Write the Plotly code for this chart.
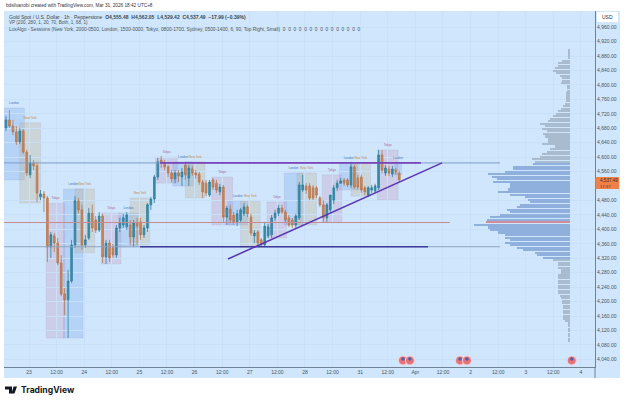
import plotly.graph_objects as go

# candles (hours since 23rd 00:00 built below)
opens = [4681,4703,4686,4670,4642,4672,4614,4551,4584,4576,4490,4498,4487,4351,4382,4362,4307,4221,4205,4257,
         4357,4479,4454,4357,4376,4445,4426,4398,4437,4324,4362,4349,4329,4404,4412,4407,4412,4379,4418,4421,
         4385,4404,4468,4484,4545,4592,4584,4573,4556,4540,4556,4545,4578,4542,4567,4556,4553,4531,4528,4495,
         4537,4528,4504,4517,4434,4456,4440,4421,4426,4443,4462,4434,4382,4393,4371,4357,4382,4385,4432,4445,
         4459,4448,4432,4426,4412,4432,4509,4520,4520,4515,4515,4487,4468,4432,4454,4481,4515,4528,4537,4537,
         4523,4573,4542,4545,4515,4495,4509,4506,4515,4606,4556,4567,4553,4564,4555.48]
highs = [4714,4730,4703,4686,4681,4678,4620,4606,4592,4587,4509,4506,4492,4393,4390,4376,4329,4238,4288,4371,
         4492,4487,4468,4385,4459,4468,4437,4448,4443,4371,4371,4360,4412,4432,4443,4448,4426,4426,4432,4432,
         4412,4473,4490,4551,4598,4603,4592,4578,4564,4564,4564,4570,4587,4578,4576,4564,4559,4537,4537,4537,
         4542,4537,4526,4523,4465,4468,4448,4454,4459,4473,4468,4443,4398,4398,4376,4421,4415,4440,4454,4468,
         4468,4454,4440,4432,4443,4531,4551,4528,4528,4523,4520,4492,4481,4473,4495,4523,4537,4542,4542,4542,
         4587,4578,4551,4551,4520,4520,4523,4526,4620,4620,4578,4576,4576,4570,4562.05]
lows = [4672,4681,4661,4634,4636,4609,4548,4542,4564,4476,4481,4448,4310,4321,4337,4301,4216,4163,4099,4252,
        4349,4445,4343,4349,4371,4393,4390,4393,4307,4304,4310,4321,4321,4393,4404,4398,4357,4351,4357,4371,
        4376,4393,4454,4473,4537,4570,4564,4545,4531,4528,4531,4520,4537,4520,4548,4540,4523,4487,4492,4490,
        4509,4501,4495,4421,4412,4418,4412,4409,4418,4437,4434,4382,4362,4351,4351,4351,4376,4376,4423,4437,
        4443,4418,4407,4404,4404,4426,4504,4498,4481,4481,4487,4462,4421,4421,4448,4470,4506,4526,4520,4517,
        4515,4512,4509,4501,4495,4490,4501,4501,4509,4556,4548,4548,4545,4551,4529.42]
closes = [4703,4686,4670,4642,4672,4614,4556,4584,4576,4501,4498,4487,4351,4385,4362,4307,4221,4205,4257,4357,
          4479,4454,4357,4371,4445,4404,4398,4437,4324,4362,4321,4329,4404,4418,4432,4440,4379,4418,4409,4385,
          4404,4468,4484,4545,4587,4584,4573,4556,4540,4556,4548,4559,4551,4570,4556,4551,4531,4504,4501,4531,
          4517,4509,4517,4434,4459,4426,4421,4443,4454,4462,4443,4390,4390,4362,4357,4409,4407,4432,4445,4459,
          4448,4426,4412,4412,4437,4523,4523,4509,4487,4487,4495,4468,4432,4468,4495,4515,4528,4534,4528,4523,
          4573,4517,4517,4509,4504,4515,4515,4520,4606,4564,4570,4556,4567,4559,4537.49]
candle_hours = [-10 + 1.5 * i for i in range(len(opens))]

# volume profile
vp_top = 4896
vp_step = 7
vp_len = [1.5,1.5,1.5,1.5,8,12,12,15,17,14,10,8,8,9,3,3,3,4,4,4,4,5,7,9,12,14,17,20,22,30,25,28,23,27,25,22,22,28,
          15,20,23,28,30,38,35,37,57,57,65,82,78,73,77,60,60,62,72,60,45,42,40,50,53,63,60,70,80,83,84,96,82,80,
          72,65,65,60,65,60,53,47,35,33,27,17,12,12,12,9,9,12,12,12,12,12,12,12,12,10,9,8,8,7,7,7,7,7,7,5,
          1.5,1.5,1.5,1.5,1.5,1.5,1.5,1.5]
vp_prices = [vp_top - vp_step * i for i in range(len(vp_len))]
va_high = 4584
va_low = 4322
poc = 4419
val_line = 4352

# session boxes
sess_names = ["London","New York","Tokyo","London","New York","Tokyo","London","New York","Tokyo","London","New York",
              "Tokyo","London","New York","Tokyo","London","New York","Tokyo","London","New York","Tokyo","London"]
sess_start = [-11,-4,7.5,15,20,31.5,39,44,55,62.5,68,79.5,86.5,92,103.5,111,116.5,127.5,135,140,151.5,159]
sess_end = [-2,5,15.5,23.5,28.5,40,47.5,52.5,64.5,71.5,76.5,88.5,95,100.5,112,119,125,136,143,148.5,160.5,162]
sess_top = [4736,4695,4473,4512,4512,4445,4445,4487,4600,4587,4587,4545,4479,4479,4476,4556,4556,4551,4584,4584,4620,4584]
sess_bot = [4537,4473,4099,4099,4335,4304,4351,4357,4528,4520,4487,4412,4412,4351,4376,4412,4412,4421,4509,4492,4481,4551]
sess_fill = {"Tokyo": "rgba(190,120,170,0.22)", "London": "rgba(110,160,235,0.28)", "New York": "rgba(190,170,130,0.28)"}
sess_text = {"Tokyo": "#b0609a", "London": "#4a78b8", "New York": "#c78a3a"}

# axes; 4,520 sits behind the last price tag
price_ticks = [v for v in range(4040, 4961, 40) if v != 4520]
time_labels = ["23","12:00","24","12:00","25","12:00","26","12:00","27","12:00","28","12:00","31","12:00",
               "Apr","12:00","2","12:00","3","12:00","4"]
time_ticks = [12 * i for i in range(len(time_labels))]
event_hours = [162.6, 165.6, 187.4, 190.4, 236]

W, H = 625, 402
ML, MR, MT, MB = 4, 30, 11, 35
PW, PH = W - ML - MR, H - MT - MB


def px(x):
    return (x - ML) / PW


def py(y):
    return (H - MB - y) / PH


BG = "#cfe6fc"
GRID = "#c8e0f8"
TXT = "#4a5560"

fig = go.Figure()

# background panel
fig.add_shape(type="rect", xref="paper", yref="paper", x0=px(4), x1=px(620), y0=py(378), y1=py(11),
              fillcolor=BG, line_width=0, layer="below")

for n, s, e, t, b in zip(sess_names, sess_start, sess_end, sess_top, sess_bot):
    fig.add_shape(type="rect", x0=s, x1=e, y0=b, y1=t, fillcolor=sess_fill[n],
                  line=dict(color="rgba(140,130,170,0.25)", width=0.5), layer="below")

# levels from the profile
fig.add_shape(type="line", x0=-11, x1=204.8, y0=va_high, y1=va_high, line=dict(color="#7f9ccb", width=1))
fig.add_shape(type="line", x0=-11, x1=183, y0=poc, y1=poc, line=dict(color="#c98b92", width=1))
fig.add_shape(type="line", x0=-11, x1=204.8, y0=val_line, y1=val_line, line=dict(color="#8ea3bf", width=1))

fig.add_trace(go.Bar(
    x=vp_len, y=vp_prices, orientation="h", width=4.5, xaxis="x2", yaxis="y",
    marker=dict(
        color=["#d08a98" if abs(p - poc) <= 3 else ("#8fb0dc" if va_low <= p <= va_high else "#a9bccf")
               for p in vp_prices],
        line_width=0,
    ),
    showlegend=False,
))

fig.add_trace(go.Candlestick(
    x=candle_hours, open=opens, high=highs, low=lows, close=closes,
    increasing=dict(line=dict(color="#2f7f9c", width=0.8), fillcolor="#3a8fab"),
    decreasing=dict(line=dict(color="#b9764c", width=0.8), fillcolor="#cc8658"),
    whiskerwidth=0, showlegend=False,
))

# drawn lines
fig.add_shape(type="line", x0=57, x1=170.4, y0=4584, y1=4584, line=dict(color="#7a45b8", width=1.6))
fig.add_shape(type="line", x0=48.3, x1=173.5, y0=val_line, y1=val_line, line=dict(color="#3d3a9c", width=1.4))
fig.add_shape(type="line", x0=86.5, x1=179.6, y0=4318, y1=4584, line=dict(color="#5a35b2", width=1.5))

# session labels
fig.add_trace(go.Scatter(
    x=[(s + e) / 2 for s, e in zip(sess_start, sess_end)],
    y=[t + 14 for t in sess_top],
    mode="text", text=sess_names,
    textfont=dict(size=3, color=[sess_text[n] for n in sess_names], family="Liberation Sans"),
    showlegend=False,
))

# event icons
fig.add_trace(go.Scatter(
    x=event_hours, y=[4037] * len(event_hours), mode="markers",
    marker=dict(size=9, color="#e9727a", line=dict(color="#f4d9dc", width=1)),
    showlegend=False,
))
fig.add_trace(go.Scatter(
    x=event_hours, y=[4041] * len(event_hours), mode="markers",
    marker=dict(size=3.5, color="#4a62a8", line_width=0),
    showlegend=False,
))

fig.update_layout(
    width=W, height=H,
    margin=dict(l=ML, r=MR, t=MT, b=MB),
    paper_bgcolor="white", plot_bgcolor="rgba(0,0,0,0)",
    font=dict(family="Liberation Sans", size=5, color=TXT),
    bargap=0, hovermode=False,
    xaxis=dict(
        range=[-10.87, 246.1], tickmode="array", tickvals=time_ticks, ticktext=time_labels,
        showgrid=True, gridcolor=GRID, gridwidth=0.7, zeroline=False, rangeslider=dict(visible=False),
        showline=True, linecolor="#6f8296", linewidth=1, ticks="", tickfont=dict(size=5, color=TXT),
    ),
    xaxis2=dict(range=[566, -25], overlaying="x", side="top", visible=False),
    yaxis=dict(
        range=[4019, 5004.6], side="right", tickmode="array", tickvals=price_ticks,
        ticktext=[f"{v:,}.00" for v in price_ticks],
        showgrid=True, gridcolor=GRID, gridwidth=0.7, zeroline=False,
        showline=True, linecolor="#6f8296", linewidth=1, ticks="", tickfont=dict(size=5, color=TXT),
    ),
)

# axis line runs on through the time strip
fig.add_shape(type="line", xref="paper", yref="paper", x0=px(595), x1=px(595), y0=py(378), y1=py(367),
              line=dict(color="#6f8296", width=1))

# USD box
fig.add_shape(type="rect", xref="paper", yref="paper", x0=px(597), x1=px(618), y0=py(22), y1=py(12),
              fillcolor="white", line_width=0)


def note(x, y, text, size=5, color=TXT, **kw):
    fig.add_annotation(xref="paper", yref="paper", x=px(x), y=py(y), text=text, showarrow=False,
                       xanchor=kw.pop("xanchor", "left"), yanchor="middle",
                       font=dict(size=size, color=color, family=kw.pop("family", "Liberation Sans")), **kw)


note(4, 6, "bdsilvanobi created with TradingView.com, Mar 31, 2026 18:42 UTC+8", size=4.7, color="#333333")
note(7, 16.5, "Gold Spot / U.S. Dollar · 1h · Pepperstone  <b>O4,555.48  H4,562.05  L4,529.42  C4,537.49  −17.99 (−0.39%)</b>",
     size=5, color="#3a4650")
note(7, 23, "VP (200, 280, 1, 20, 70, Both, 1, 68, 1)", size=4.6)
note(7, 29.5, "LuxAlgo - Sessions (New York, 2000-0500, London, 1500-0000, Tokyo, 0800-1700, Sydney, 0500-1400, 6, 90, Top Right, Small)  0  0  0  0  0  0  0  0  0  0  0  0  0  0  0",
     size=4.8)
note(600, 17, "USD", size=5, color="#333333")

# last price tag
fig.add_shape(type="rect", xref="paper", yref="paper", x0=px(595.5), x1=px(619), y0=py(189), y1=py(177),
              fillcolor="#ef8049", line_width=0)
note(598, 180, "4,537.49", size=4.6, color="#3a2a20")
note(598, 186.5, "17:37", size=4.2, color="#5a3a28")

# TradingView logo
fig.add_shape(type="path", xref="paper", yref="paper", fillcolor="#131722", line_width=0,
              path=f"M {px(5)} {py(386.5)} L {px(12)} {py(386.5)} L {px(12)} {py(393.5)} L {px(9)} {py(393.5)} "
                   f"L {px(9)} {py(389.5)} L {px(5)} {py(389.5)} Z")
fig.add_shape(type="path", xref="paper", yref="paper", fillcolor="#131722", line_width=0,
              path=f"M {px(13.5)} {py(386.5)} L {px(17)} {py(386.5)} L {px(14.5)} {py(393.5)} L {px(11.5)} {py(393.5)} Z")
note(18.5, 390, "<b>TradingView</b>", size=8.6, color="#131722", family="Inter")

# the page's default body margin would push the 625 px figure out of the window
fig.write_html("out.html", config=dict(displayModeBar=False), post_script="document.body.style.margin = '0';")
